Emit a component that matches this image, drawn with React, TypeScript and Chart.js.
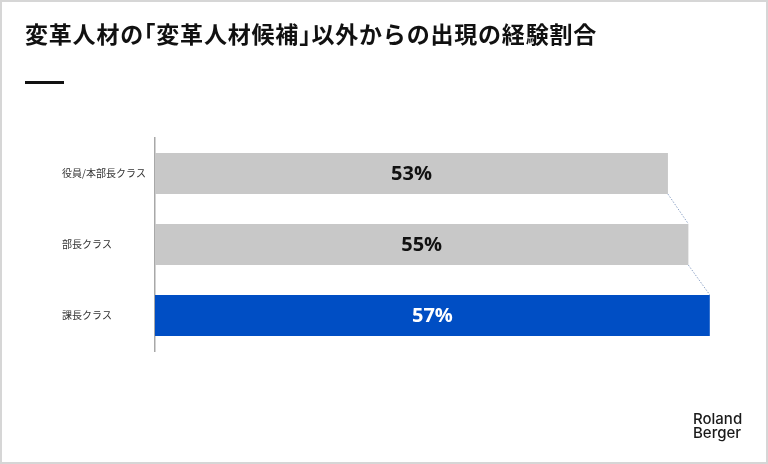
import Chart from "chart.js/auto";
import { useEffect, useRef } from "react";

const categories = ["役員/本部長クラス", "部長クラス", "課長クラス"];
const shares = [52.7, 54.8, 57.0];
const barColors = ["#c8c8c8", "#c8c8c8", "#004ec4"];
const labelColors = ["#111111", "#111111", "#ffffff"];

const valueLabels = {
  id: "valueLabels",
  afterDatasetsDraw(chart: Chart) {
    const { ctx } = chart;
    const meta = chart.getDatasetMeta(0);
    ctx.save();
    // dotted connectors between bar ends
    ctx.strokeStyle = "#8ea3c6";
    ctx.lineWidth = 1;
    ctx.setLineDash([1.5, 1.5]);
    for (let i = 0; i < meta.data.length - 1; i++) {
      const a = meta.data[i] as any;
      const b = meta.data[i + 1] as any;
      ctx.beginPath();
      ctx.moveTo(a.x, a.y + a.height / 2);
      ctx.lineTo(b.x, b.y - b.height / 2);
      ctx.stroke();
    }
    ctx.setLineDash([]);
    ctx.font = "bold 20px 'Open Sans', 'Noto Sans', sans-serif";
    ctx.textAlign = "center";
    ctx.textBaseline = "middle";
    meta.data.forEach((el: any, i) => {
      ctx.fillStyle = labelColors[i];
      ctx.fillText(`${Math.round(shares[i])}%`, (el.x + el.base) / 2, el.y + 1);
    });
    ctx.restore();
  },
};

const halfWidth = { fontFeatureSettings: '"halt"' } as const;

export default function App() {
  const canvasRef = useRef<HTMLCanvasElement>(null);

  useEffect(() => {
    if (!canvasRef.current) return;
    const chart = new Chart(canvasRef.current, {
      type: "bar",
      data: {
        labels: categories,
        datasets: [
          {
            data: shares,
            backgroundColor: barColors,
            barPercentage: 0.58,
            categoryPercentage: 1,
          },
        ],
      },
      options: {
        indexAxis: "y",
        responsive: false,
        animation: false,
        layout: { padding: { top: 138, right: 29, bottom: 113, left: 62 } },
        plugins: {
          legend: { display: false },
          tooltip: { enabled: false },
          title: { display: false },
        },
        scales: {
          x: { display: false, min: 0, max: 60 },
          y: {
            grid: { display: false },
            border: { display: true, color: "#a8a8a8", width: 1.5 },
            afterFit: (scale) => {
              scale.width = 93;
            },
            ticks: {
              crossAlign: "far",
              color: "#333333",
              font: { family: "'Noto Sans CJK JP', sans-serif", size: 10 },
            },
          },
        },
      },
      plugins: [valueLabels],
    });
    return () => chart.destroy();
  }, []);

  return (
    <div
      style={{
        position: "fixed",
        left: 0,
        top: 0,
        width: 768,
        height: 464,
        background: "#ffffff",
        fontFamily: "'Noto Sans CJK JP', sans-serif",
      }}
    >
      <canvas
        ref={canvasRef}
        width={768}
        height={464}
        style={{ position: "absolute", left: 0, top: 0, width: 768, height: 464 }}
      />
      <div
        style={{
          position: "absolute",
          left: 25,
          top: 20,
          fontSize: 23,
          lineHeight: "26px",
          letterSpacing: 0.8,
          fontWeight: 700,
          color: "#111111",
          whiteSpace: "nowrap",
        }}
      >
        変革人材の<span style={halfWidth}>「</span>変革人材候補
        <span style={halfWidth}>」</span>以外からの出現の経験割合
      </div>
      <div
        style={{
          position: "absolute",
          left: 25,
          top: 81,
          width: 39,
          height: 3,
          background: "#111111",
        }}
      />
      <div
        style={{
          position: "absolute",
          left: 693,
          top: 412,
          fontFamily: "Inter, sans-serif",
          fontSize: 15,
          lineHeight: "14px",
          fontWeight: 500,
          color: "#1a1a1a",
        }}
      >
        Roland
        <br />
        Berger
      </div>
      <div
        style={{
          position: "absolute",
          inset: 0,
          border: "2px solid #d6d6d6",
          pointerEvents: "none",
        }}
      />
    </div>
  );
}
